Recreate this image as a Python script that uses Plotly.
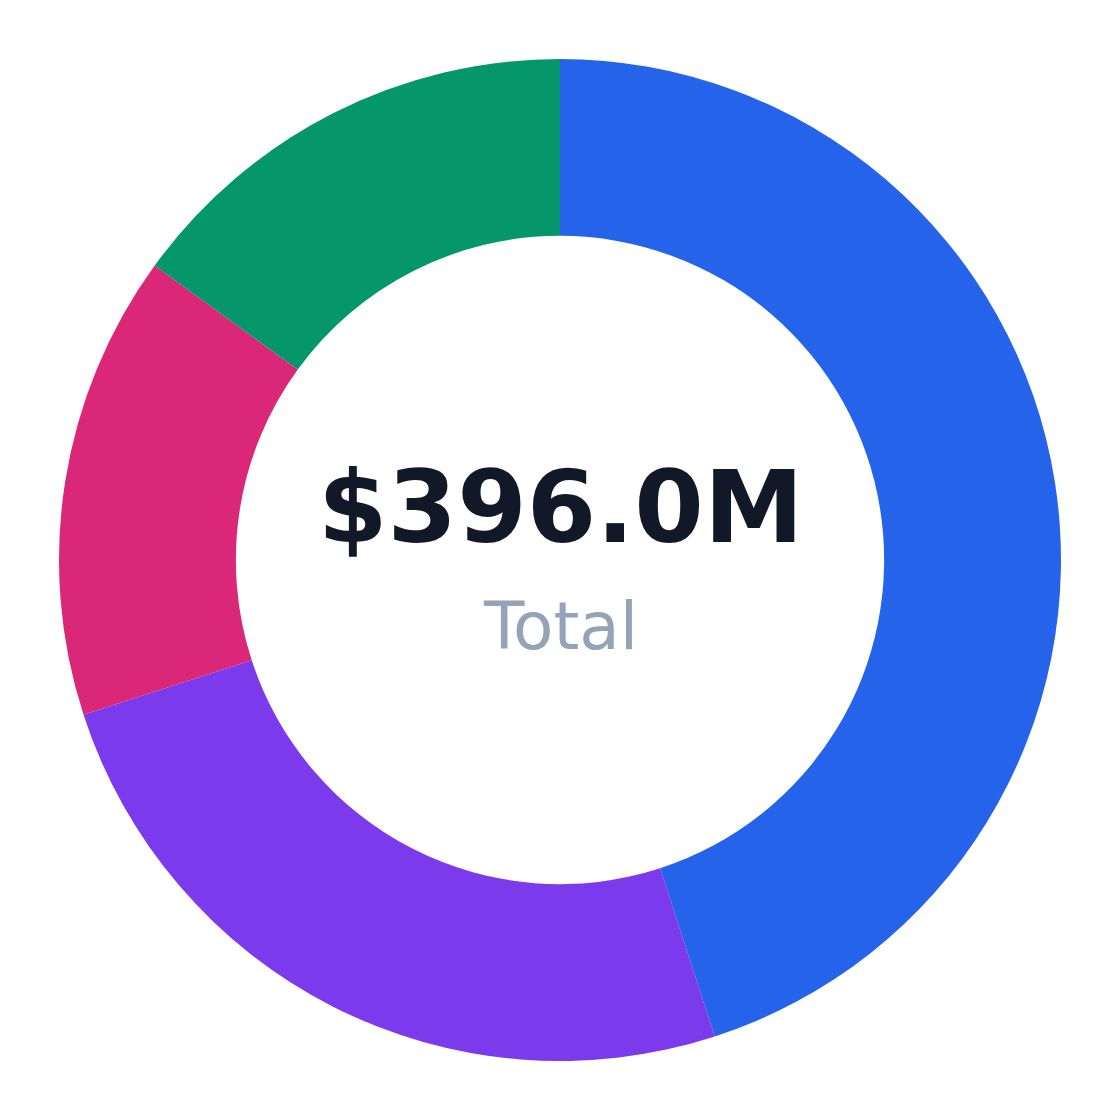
import plotly.graph_objects as go

segments = ["Enterprise", "Mid-Market", "SMB", "Public Sector"]
revenue = [178.2, 99.0, 59.4, 59.4]  # $M
colors = ["#2563eb", "#7c3aed", "#db2777", "#059669"]

total = sum(revenue)

fig = go.Figure(go.Pie(
    labels=segments,
    values=revenue,
    hole=0.647,
    sort=False,
    direction="clockwise",
    rotation=0,
    marker=dict(colors=colors),
    textinfo="none",
    hoverinfo="label+value+percent",
))

fig.add_annotation(
    text=f"<b>${total:.1f}M</b>",
    x=0.5, y=0.552, xref="paper", yref="paper",
    showarrow=False,
    font=dict(family="DejaVu Sans", size=100, color="#111827"),
)
fig.add_annotation(
    text="Total",
    x=0.5, y=0.434, xref="paper", yref="paper",
    showarrow=False,
    font=dict(family="DejaVu Sans", size=66, color="#94a3b8"),
)

# page body adds 8px offset, so shift the plot area up/left
fig.update_layout(
    width=1120,
    height=1120,
    showlegend=False,
    margin=dict(l=51, r=67, t=51, b=67),
    paper_bgcolor="#ffffff",
    plot_bgcolor="#ffffff",
)

fig.write_html("out.html")
